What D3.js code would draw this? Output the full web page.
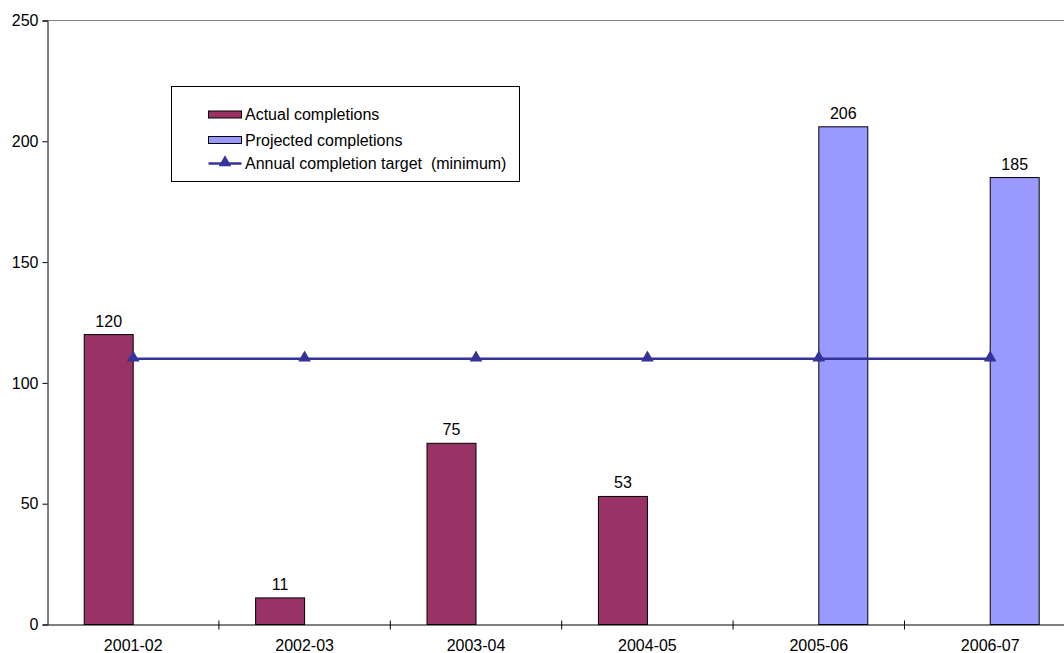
<html>
<head>
<style type="text/css">
  body { margin: 0; background: #fff; }
  text { font-family: "Liberation Sans", Arial, sans-serif; }
</style>
<script src="https://d3js.org/d3.v7.min.js"></script>
</head>
<body>
<div id="chart"></div>
<script>
// chart data
var years = ["2001-02", "2002-03", "2003-04", "2004-05", "2005-06", "2006-07"];
var actual = [120, 11, 75, 53, null, null];
var projected = [null, null, null, null, 206, 185];
var target = [110, 110, 110, 110, 110, 110];
var yTicks = [0, 50, 100, 150, 200, 250];
var seriesNames = ["Actual completions", "Projected completions", "Annual completion target  (minimum)"];

var width = 1064, height = 653;
var plotLeft = 47.5, plotTop = 20.5, plotBottom = 624.5;
var groupW = 171.4;
var plotRight = plotLeft + groupW * years.length;
var fontSize = 16;

var svg = d3.select("#chart").append("svg")
    .attr("width", width)
    .attr("height", height);

var x0 = d3.scaleBand()
    .domain(years)
    .range([plotLeft, plotRight])
    .padding(0);

var x1 = d3.scaleBand()
    .domain(["actual", "projected"])
    .range([groupW * 0.2142, groupW * 0.7858])
    .padding(0);

var y = d3.scaleLinear()
    .domain([0, 250])
    .range([plotBottom, plotTop]);

// plot border (top)
svg.append("line")
    .attr("x1", plotLeft).attr("x2", plotRight)
    .attr("y1", plotTop).attr("y2", plotTop)
    .attr("stroke", "#808080").attr("stroke-width", 1);

// bars
function drawBars(vals, key, fill) {
  var rows = years.map(function(d, i) { return { year: d, v: vals[i] }; })
                  .filter(function(d) { return d.v != null; });

  svg.append("g").selectAll("rect")
      .data(rows)
    .enter().append("rect")
      .attr("x", function(d) { return x0(d.year) + x1(key); })
      .attr("y", function(d) { return y(d.v); })
      .attr("width", x1.bandwidth())
      .attr("height", function(d) { return y(0) - y(d.v); })
      .attr("fill", fill)
      .attr("stroke", "#000")
      .attr("stroke-width", 1);

  svg.append("g").selectAll("text")
      .data(rows)
    .enter().append("text")
      .attr("x", function(d) { return x0(d.year) + x1(key) + x1.bandwidth() / 2; })
      .attr("y", function(d) { return y(d.v) - 8; })
      .attr("text-anchor", "middle")
      .attr("font-size", fontSize)
      .attr("fill", "#000")
      .text(function(d) { return d.v; });
}
drawBars(actual, "actual", "#993366");
drawBars(projected, "projected", "#9999FF");

// target line
var line = d3.line()
    .x(function(d, i) { return x0(years[i]) + groupW / 2; })
    .y(function(d) { return y(d); });

svg.append("path")
    .datum(target)
    .attr("d", line)
    .attr("fill", "none")
    .attr("stroke", "#333399")
    .attr("stroke-width", 2.5);

var tri = d3.symbol().type(d3.symbolTriangle).size(70);
svg.append("g").selectAll("path")
    .data(target)
  .enter().append("path")
    .attr("d", tri)
    .attr("transform", function(d, i) { return "translate(" + (x0(years[i]) + groupW / 2) + "," + (y(d) - 1) + ")"; })
    .attr("fill", "#333399");

// y axis
var yAxis = svg.append("g")
    .attr("transform", "translate(" + plotLeft + ",0)")
    .call(d3.axisLeft(y).tickValues(yTicks).tickSize(5).tickPadding(4));
yAxis.select(".domain").attr("stroke", "#000");
yAxis.selectAll(".tick line").attr("stroke", "#000");
yAxis.selectAll("text").attr("font-size", fontSize).attr("fill", "#000")
    .style("font-family", "'Liberation Sans', Arial, sans-serif");

// x axis
var xAxis = svg.append("g")
    .attr("transform", "translate(0," + plotBottom + ")")
    .call(d3.axisBottom(x0).tickSize(0).tickPadding(15));
xAxis.select(".domain").attr("stroke", "#000");
xAxis.selectAll("text").attr("font-size", fontSize).attr("fill", "#000")
    .style("font-family", "'Liberation Sans', Arial, sans-serif");

svg.append("g").selectAll("line")
    .data(years.slice(1))
  .enter().append("line")
    .attr("x1", function(d) { return x0(d); })
    .attr("x2", function(d) { return x0(d); })
    .attr("y1", plotBottom - 4)
    .attr("y2", plotBottom + 5)
    .attr("stroke", "#000");

// legend
var lg = svg.append("g").attr("transform", "translate(171.5,86.5)");
lg.append("rect")
    .attr("width", 348).attr("height", 95)
    .attr("fill", "#fff").attr("stroke", "#000");

var rowY = [28, 53.5, 77];
var fills = ["#993366", "#9999FF"];
[0, 1].forEach(function(i) {
  lg.append("rect")
      .attr("x", 37).attr("y", rowY[i] - 3.5)
      .attr("width", 33).attr("height", 7)
      .attr("fill", fills[i]).attr("stroke", "#000");
});
lg.append("line")
    .attr("x1", 37).attr("x2", 70)
    .attr("y1", rowY[2]).attr("y2", rowY[2])
    .attr("stroke", "#333399").attr("stroke-width", 2.5);
lg.append("path")
    .attr("d", tri)
    .attr("transform", "translate(53.5," + (rowY[2] - 1) + ")")
    .attr("fill", "#333399");

lg.selectAll("text.item")
    .data(seriesNames)
  .enter().append("text")
    .attr("class", "item")
    .attr("x", 73.5)
    .attr("y", function(d, i) { return rowY[i] + 5.5; })
    .attr("font-size", fontSize)
    .attr("fill", "#000")
    .style("white-space", "pre")
    .text(function(d) { return d; });
</script>
</body>
</html>
